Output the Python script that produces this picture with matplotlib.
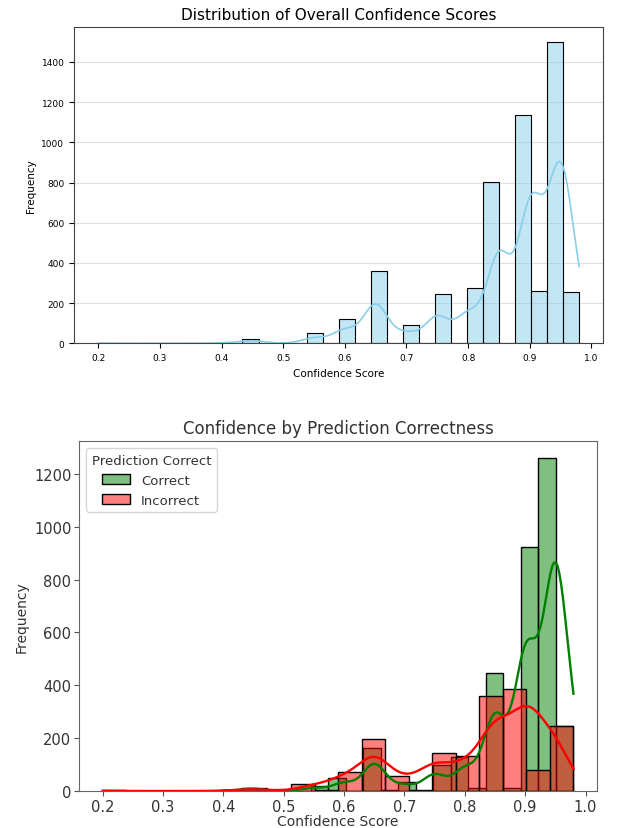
import numpy as np
import pandas as pd
import matplotlib
matplotlib.use('Agg')
import matplotlib.pyplot as plt
from matplotlib.colors import to_rgb
import seaborn as sns

# confidence score levels and how many predictions landed on each
score_levels = [0.20, 0.40, 0.42, 0.45, 0.50, 0.55, 0.56, 0.60, 0.63, 0.65,
                0.68, 0.70, 0.73, 0.75, 0.80, 0.82, 0.85, 0.88, 0.90, 0.92,
                0.95, 0.98]
correct_counts = [0, 1, 2, 13, 0, 19, 0, 50, 0, 163,
                  3, 35, 0, 100, 130, 12, 446, 10, 740, 183,
                  1261, 246]
incorrect_counts = [2, 1, 1, 10, 1, 28, 3, 72, 2, 196,
                    0, 55, 2, 145, 133, 0, 358, 0, 387, 78,
                    238, 10]

correct = np.repeat(score_levels, correct_counts)
incorrect = np.repeat(score_levels, incorrect_counts)
df = pd.DataFrame({
    'confidence': np.concatenate([correct, incorrect]),
    'Prediction Correct': ['Correct'] * len(correct) + ['Incorrect'] * len(incorrect),
})

fig = plt.figure(figsize=(6.18, 8.29), dpi=100)

# overall distribution
ax1 = fig.add_axes([0.120, 0.5847, 0.856, 0.3815])
sns.histplot(data=df, x='confidence', bins=30, kde=True, color='skyblue',
             edgecolor='black', linewidth=0.8, line_kws={'linewidth': 1.2}, ax=ax1)
ax1.set_axisbelow(True)
ax1.grid(axis='y', alpha=0.4)
ax1.set_title('Distribution of Overall Confidence Scores', fontsize=11)
ax1.set_xlabel('Confidence Score', fontsize=7.5)
ax1.set_ylabel('Frequency', fontsize=7.5)
ax1.tick_params(labelsize=6.5)
for s in ax1.spines.values():
    s.set_color('#444444')

# split by whether the prediction was right
ax2 = fig.add_axes([0.128, 0.0446, 0.838, 0.422])
sns.histplot(data=df, x='confidence', hue='Prediction Correct',
             hue_order=['Correct', 'Incorrect'],
             palette={'Correct': 'green', 'Incorrect': 'red'},
             bins=20, common_bins=False, kde=True, edgecolor='black',
             linewidth=1.0, line_kws={'linewidth': 1.7}, ax=ax2)

# put the incorrect bars and curve above the correct ones
red = to_rgb('red')
for p in ax2.patches:
    if np.allclose(p.get_facecolor()[:3], red):
        p.set_zorder(1.5)
for ln in ax2.lines:
    if np.allclose(to_rgb(ln.get_color()), red):
        ln.set_zorder(2.5)

txt = '#333333'
ax2.set_title('Confidence by Prediction Correctness', fontsize=12, color=txt)
ax2.set_xlabel('Confidence Score', fontsize=10, color=txt, labelpad=0)
ax2.set_ylabel('Frequency', fontsize=10, color=txt)
ax2.tick_params(labelsize=10.5, labelcolor=txt, color='#555555', pad=2)
for s in ax2.spines.values():
    s.set_color('#666666')
leg = ax2.get_legend()
leg.set_loc('upper left')
leg.get_title().set_fontsize(9.5)
leg.get_title().set_color(txt)
for t in leg.get_texts():
    t.set_fontsize(9.5)
    t.set_color(txt)

fig.savefig('out.png', dpi=100)
